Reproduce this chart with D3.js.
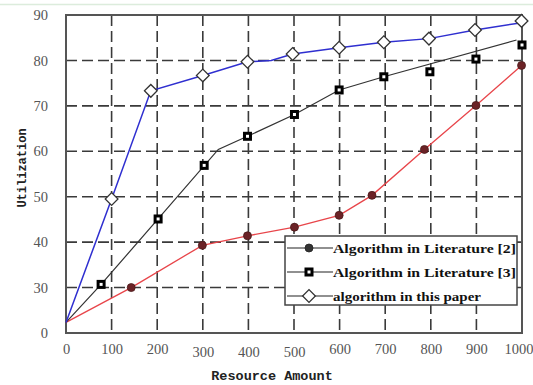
<html>
<head>
<meta charset="utf-8">
<title>Utilization vs Resource Amount</title>
<script src="https://d3js.org/d3.v7.min.js"></script>
<style>
  body { margin: 0; background: #fff; }
</style>
</head>
<body>
<svg width="533" height="385"></svg>
<script>
// data
var xTicks = [0,100,200,300,400,500,600,700,800,900,1000];
var yTicks = [0,30,40,50,60,70,80,90];
var seriesNames = ["Algorithm in Literature [2]", "Algorithm in Literature [3]", "algorithm in this paper"];

var lit2Points = [[0,7],[143,30],[299,39.3],[398,41.4],[501,43.3],[599,45.9],[671,50.3],[786,60.4],[899,70.1],[999,78.9]];
var lit3Points = [[77,30.7],[202,45.1],[303,56.9],[398,63.3],[501,68.1],[599,73.5],[697,76.4],[798,77.5],[899,80.3],[1000,83.4]];
var lit3Line   = [[0,7],[77,30.7],[202,45.1],[334,60.4],[398,63.3],[501,68.1],[599,73.5],[697,76.4],[988,84.5]];
var paperPoints = [[100,49.5],[186,73.3],[300,76.7],[398,79.7],[497,81.4],[599,82.8],[697,84],[796,84.8],[897,86.7],[999,88.7]];
var paperLine  = [[0,7],[100,49.5],[186,73.3],[300,76.7],[398,79.7],[450,80],[497,81.4],[599,82.8],[697,84],[796,84.8],[897,86.7],[992,88.2]];

var svg = d3.select("svg"),
    margin = {top: 15, right: 11, bottom: 52, left: 66},
    width = +svg.attr("width") - margin.left - margin.right,
    height = +svg.attr("height") - margin.top - margin.bottom;

// faint top rule of the screenshot
svg.append("line").attr("x1",0).attr("x2",533).attr("y1",4.5).attr("y2",4.5)
   .attr("stroke","#dcecdc").attr("stroke-width",1.5);

var g = svg.append("g").attr("transform",`translate(${margin.left},${margin.top})`);

var x = d3.scaleLinear().domain([0,1000]).range([0,width]);
// 0..30 is squeezed into one grid step, like the original
var step = height/7;
var y = d3.scaleLinear().domain([0,30,90]).range([height, height-step, 0]);

// grid
g.selectAll(".vgrid").data(xTicks.slice(1,-1)).enter().append("line")
  .attr("x1",d=>x(d)).attr("x2",d=>x(d)).attr("y1",0).attr("y2",height)
  .attr("stroke","#3a3a3a").attr("stroke-width",1.6).attr("stroke-dasharray","11,5");
g.selectAll(".hgrid").data(yTicks.slice(1,-1)).enter().append("line")
  .attr("y1",d=>y(d)).attr("y2",d=>y(d)).attr("x1",0).attr("x2",width)
  .attr("stroke","#3a3a3a").attr("stroke-width",1.6).attr("stroke-dasharray","11,5");

// frame
g.append("rect").attr("width",width).attr("height",height)
  .attr("fill","none").attr("stroke","#555").attr("stroke-width",2);

// axes
var xa = g.append("g").attr("transform",`translate(0,${height})`)
  .call(d3.axisBottom(x).tickValues(xTicks).tickSize(0).tickPadding(10).tickFormat(d3.format("d")));
xa.select(".domain").remove();
xa.selectAll("text").style("font","14.5px 'Liberation Serif'").style("fill","#555")
  .attr("dy", d => (d>=300 && d<=500) ? "0.95em" : "0.75em");
// last label would run off the page edge: keep it inside
xa.selectAll("text").filter(d => d === 1000).attr("text-anchor","end").attr("x", 11);

var ya = g.append("g")
  .call(d3.axisLeft(y).tickValues(yTicks).tickSize(0).tickPadding(18));
ya.select(".domain").remove();
ya.selectAll("text").style("font","14.5px 'Liberation Serif'").style("fill","#555");

// axis titles
svg.append("text").text("Resource Amount")
  .attr("x",272).attr("y",380).attr("text-anchor","middle")
  .style("font","bold 13.5px 'Liberation Mono'").style("fill","#222");
svg.append("text").text("Utilization")
  .attr("transform","translate(26,168) rotate(-90)").attr("text-anchor","middle")
  .style("font","bold 12px 'Liberation Mono'").style("fill","#222");

var line = d3.line().x(d=>x(d[0])).y(d=>y(d[1]));

g.append("path").datum(lit2Points).attr("d",line)
  .attr("fill","none").attr("stroke","#e8454a").attr("stroke-width",1.3);
g.append("path").datum(lit3Line).attr("d",line)
  .attr("fill","none").attr("stroke","#333").attr("stroke-width",1.2);
g.append("path").datum(paperLine).attr("d",line)
  .attr("fill","none").attr("stroke","#2f2fd0").attr("stroke-width",1.5);

// markers
function circleMark(sel){
  sel.append("circle").attr("r",4).attr("fill","#6b2226").attr("stroke","#4a1a1a").attr("stroke-width",0.8);
}
function squareMark(sel){
  sel.append("rect").attr("x",-3).attr("y",-3).attr("width",6).attr("height",6)
    .attr("fill","#fff").attr("stroke","#000").attr("stroke-width",3);
}
function diamondMark(sel){
  sel.append("rect").attr("x",-4.5).attr("y",-4.5).attr("width",9).attr("height",9)
    .attr("transform","rotate(45)")
    .attr("fill","#fff").attr("stroke","#333").attr("stroke-width",1.3);
}

g.selectAll(".p2").data(lit2Points.slice(1)).enter().append("g")
  .attr("transform",d=>`translate(${x(d[0])},${y(d[1])})`).call(circleMark);
g.selectAll(".p3").data(lit3Points).enter().append("g")
  .attr("transform",d=>`translate(${x(d[0])},${y(d[1])})`).call(squareMark);
g.selectAll(".pp").data(paperPoints).enter().append("g")
  .attr("transform",d=>`translate(${x(d[0])},${y(d[1])})`).call(diamondMark);

// legend
var lg = svg.append("g").attr("transform","translate(285,236)");
lg.append("rect").attr("width",232).attr("height",69)
  .attr("fill","#fff").attr("stroke","#444").attr("stroke-width",1.5);
var marks = [circleMark, squareMark, diamondMark];
seriesNames.forEach(function(name,i){
  var row = lg.append("g").attr("transform",`translate(0,${12 + i*24})`);
  row.append("line").attr("x1",2).attr("x2",48).attr("stroke","#222").attr("stroke-width",1.2);
  var m = row.append("g").attr("transform","translate(24,0)").call(marks[i]);
  if(i==0) m.select("circle").attr("fill","#333").attr("stroke","#222");
  row.append("text").text(name).attr("x",48).attr("y",5)
    .attr("textLength",i<2 ? 183 : 148).attr("lengthAdjust","spacingAndGlyphs")
    .style("font","bold 13px 'Liberation Serif'").style("fill","#111");
});
</script>
</body>
</html>
